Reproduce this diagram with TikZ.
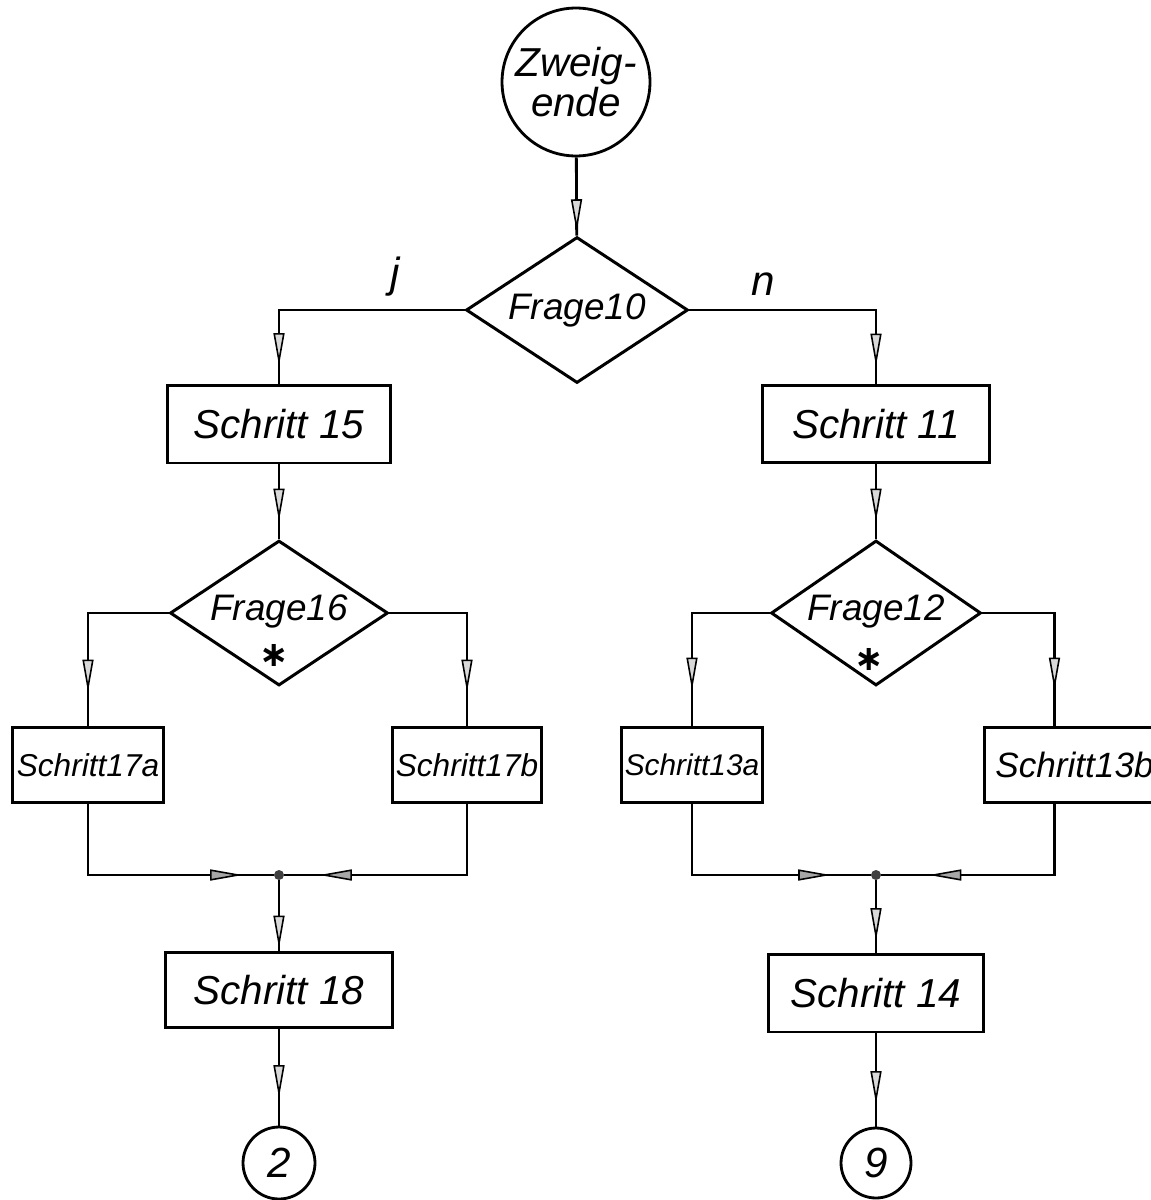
\documentclass[tikz,border=0pt]{standalone}
\usepackage{fontspec}
\setmainfont{Liberation Sans}
\newfontfamily\symfont{DejaVu Sans}
\usetikzlibrary{shapes.geometric, arrows.meta, decorations.markings}
\begin{document}
\begin{tikzpicture}[x=0.02cm, y=-0.02cm,
  ln/.style={line width=1.6pt},
  hand/.style={font=\fontsize{#1}{#1}\selectfont\itshape},
  box/.style={draw, line width=1.7pt, rectangle, inner sep=0pt, hand=23},
  dia/.style={draw, line width=1.7pt, diamond, inner sep=0pt, shape aspect=1.5, hand=21},
  term/.style={draw, circle, line width=1.6pt, inner sep=0pt},
  jdot/.style={circle, fill=black!75, inner sep=0pt, minimum size=0.2cm},
  qtext/.style={inner sep=0pt, anchor=base, hand=21},
  star/.style={inner sep=0pt, anchor=base, font=\fontsize{20}{20}\symfont\bfseries},
  arrat/.style={postaction={decorate}, decoration={markings, mark=at position #1 with {\arrow{Triangle[length=0.65cm,width=0.22cm,fill=gray!30,line width=0.9pt]}}}},
  arrh/.style={postaction={decorate}, decoration={markings, mark=at position #1 with {\arrow{Triangle[length=0.65cm,width=0.22cm,fill=gray!70,line width=0.9pt]}}}},
]
\useasboundingbox (0,0) rectangle (1151,1200);

% top
\node[term, minimum size=2.96cm, align=center, font=\fontsize{23}{19}\selectfont\itshape] (zw) at (576,82) {Zweig-\\ende};
\node[dia, minimum width=4.44cm, minimum height=2.92cm] (f10) at (577,310) {Frage10};
\node[hand=24] (lj) at (395,277) {j};
\node[hand=24] (lnn) at (763,284) {n};

% second row
\node[box, minimum width=4.46cm, minimum height=1.56cm] (s15) at (279,424) {Schritt 15};
\node[box, minimum width=4.54cm, minimum height=1.54cm] (s11) at (876,424) {Schritt 11};

% questions
\node[dia, minimum width=4.36cm, minimum height=2.9cm] (f16) at (279,613) {};
\node[qtext] (f16t) at (279,620) {Frage16};
\node[star] (a16) at (274,666) {∗};
\node[dia, minimum width=4.2cm, minimum height=2.9cm] (f12) at (876,613) {};
\node[qtext] (f12t) at (876,620) {Frage12};
\node[star] (a12) at (869,670) {∗};

% branch boxes
\node[box, hand=18, minimum width=3.02cm, minimum height=1.5cm] (s17a) at (88,765) {Schritt17a};
\node[box, hand=18, minimum width=3.0cm, minimum height=1.5cm] (s17b) at (467,765) {Schritt17b};
\node[box, hand=17, minimum width=2.82cm, minimum height=1.5cm] (s13a) at (692,765) {Schritt13a};
\node[box, hand=20, minimum width=3.6cm, minimum height=1.5cm, anchor=west] (s13b) at (983,765) {Schritt13b};

% junctions
\node[jdot] (j1) at (279,875) {};
\node[jdot] (j2) at (876,875) {};

% lower boxes
\node[box, minimum width=4.56cm, minimum height=1.5cm] (s18) at (279,990) {Schritt 18};
\node[box, minimum width=4.32cm, minimum height=1.56cm] (s14) at (876,993) {Schritt 14};

% connector circles
\node[term, minimum size=1.44cm, hand=24] (c2) at (279,1163) {2};
\node[term, minimum size=1.4cm, hand=24] (c9) at (876,1163) {9};

\draw[ln, arrat=-0.08cm] (zw) -- (f10);
\draw[ln, arrat=-0.36cm] (f10.west) -| (s15.north);
\draw[ln, arrat=-0.36cm] (f10.east) -| (s11.north);
\draw[ln, arrat=-0.36cm] (s15) -- (f16);
\draw[ln, arrat=-0.36cm] (s11) -- (f12);
\draw[ln, arrat=-0.68cm] (f16.west) -| (s17a.north);
\draw[ln, arrat=-0.68cm] (f16.east) -| (s17b.north);
\draw[ln, arrat=-0.72cm] (f12.west) -| (s13a.north);
\draw[ln, arrat=-0.72cm] (f12.east) -| ([xshift=-0.4cm]s13b.north);
\draw[ln, arrh=-0.62cm] (s17a.south) |- (j1);
\draw[ln, arrh=-0.7cm] (s17b.south) |- (j1);
\draw[ln, arrh=-0.8cm] (s13a.south) |- (j2);
\draw[ln, arrh=-0.95cm] ([xshift=-0.4cm]s13b.south) |- (j2);
\draw[ln, arrat=-0.06cm] (j1) -- (s18);
\draw[ln, arrat=-0.56cm] (s18) -- (c2);
\draw[ln, arrat=-0.24cm] (j2) -- (s14);
\draw[ln, arrat=-0.46cm] (s14) -- (c9);
\end{tikzpicture}
\end{document}
